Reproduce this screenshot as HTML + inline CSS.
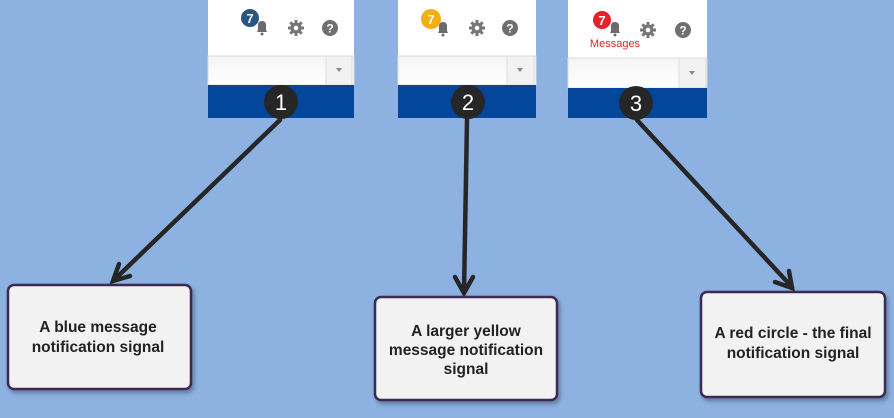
<!DOCTYPE html>
<html><head><meta charset="utf-8"><style>
html,body{margin:0;padding:0;background:#8db1e0;}
svg{display:block}
text{font-family:"Liberation Sans",sans-serif}
</style></head><body>
<svg width="894" height="418" viewBox="0 0 894 418" xmlns="http://www.w3.org/2000/svg">
<rect width="894" height="418" fill="#8db1e0"/>
<defs>
<g id="bell"><path d="M-5,4 L-4,2 L-4,-3 Q-4,-7 0,-7 Q4,-7 4,-3 L4,2 L5,4 Z" fill="#6b6b6b"/><circle cx="0" cy="6" r="1.5" fill="#6b6b6b"/></g>
<g id="gear"><g stroke="#777" stroke-width="3"><line x1="0" y1="-8" x2="0" y2="8"/><line x1="-8" y1="0" x2="8" y2="0"/><line x1="-5.7" y1="-5.7" x2="5.7" y2="5.7"/><line x1="-5.7" y1="5.7" x2="5.7" y2="-5.7"/></g><circle r="5.5" fill="#777"/><circle r="2.3" fill="#fff"/></g>
<g id="help"><circle r="8" fill="#6f6f6f"/><text x="0" y="4.5" font-size="12" font-weight="bold" fill="#fff" text-anchor="middle">?</text></g>
<linearGradient id="inp" x1="0" y1="0" x2="0" y2="1"><stop offset="0" stop-color="#f4f4f4"/><stop offset="1" stop-color="#ffffff"/></linearGradient>
<filter id="sh" x="-10%" y="-10%" width="130%" height="130%"><feDropShadow dx="2" dy="3" stdDeviation="2" flood-color="#000" flood-opacity="0.3"/></filter>
</defs>

<!-- Panel 1 -->
<rect x="208" y="0" width="146" height="56" fill="#fff"/>
<rect x="208" y="56" width="146" height="29" fill="url(#inp)" stroke="#ddd"/>
<rect x="326" y="56" width="26" height="29" fill="#f2f2f2" stroke="#ddd"/>
<path d="M336,68 L342,68 L339,72Z" fill="#888"/>
<rect x="208" y="85" width="146" height="33" fill="#04469a"/>
<use href="#bell" x="262" y="28"/>
<circle cx="250" cy="18" r="9" fill="#2b5580"/>
<text x="250" y="23" font-size="13" font-weight="bold" fill="#fff" text-anchor="middle">7</text>
<use href="#gear" x="296" y="28"/>
<use href="#help" x="330" y="28"/>
<circle cx="281" cy="102" r="17" fill="#262626"/>
<text x="281" y="110" font-size="22" fill="#fff" text-anchor="middle">1</text>

<!-- Panel 2 -->
<rect x="398" y="0" width="138" height="56" fill="#fff"/>
<rect x="398" y="56" width="138" height="29" fill="url(#inp)" stroke="#ddd"/>
<rect x="507" y="56" width="27" height="29" fill="#f2f2f2" stroke="#ddd"/>
<path d="M517,68 L523,68 L520,72Z" fill="#888"/>
<rect x="398" y="85" width="138" height="33" fill="#04469a"/>
<use href="#bell" x="443" y="29"/>
<circle cx="431" cy="19" r="10" fill="#f4ae13"/>
<text x="431" y="24" font-size="13" font-weight="bold" fill="#fff" text-anchor="middle">7</text>
<use href="#gear" x="477" y="28"/>
<use href="#help" x="510" y="28"/>
<circle cx="468" cy="102" r="17" fill="#262626"/>
<text x="468" y="110" font-size="22" fill="#fff" text-anchor="middle">2</text>

<!-- Panel 3 -->
<rect x="568" y="0" width="139" height="58" fill="#fff"/>
<rect x="568" y="58" width="139" height="30" fill="url(#inp)" stroke="#ddd"/>
<rect x="679" y="58" width="27" height="30" fill="#f2f2f2" stroke="#ddd"/>
<path d="M689,71 L695,71 L692,75Z" fill="#888"/>
<rect x="568" y="88" width="139" height="30" fill="#04469a"/>
<use href="#bell" x="615" y="29"/>
<circle cx="602" cy="20" r="9" fill="#e8202a"/>
<text x="602" y="25" font-size="13" font-weight="bold" fill="#fff" text-anchor="middle">7</text>
<text x="615" y="47" font-size="11" fill="#e8202a" text-anchor="middle">Messages</text>
<use href="#gear" x="648" y="30"/>
<use href="#help" x="683" y="30"/>
<circle cx="636" cy="103" r="17" fill="#262626"/>
<text x="636" y="111" font-size="22" fill="#fff" text-anchor="middle">3</text>

<!-- Arrows -->
<g stroke="#262626" stroke-width="4.5" fill="none" stroke-linecap="round">
<line x1="280" y1="120" x2="114" y2="280"/>
<polyline points="119,264 113,281 130,276"/>
<line x1="467" y1="120" x2="464" y2="292"/>
<polyline points="455,277 464,293 473,277"/>
<line x1="637" y1="120" x2="792" y2="287"/>
<polyline points="775,282 792,288 789,271"/>
</g>

<!-- Boxes -->
<g filter="url(#sh)" fill="#f2f2f2" stroke="#3a2a55" stroke-width="2.5">
<rect x="8" y="285" width="183" height="104" rx="6"/>
<rect x="375" y="297" width="182" height="103" rx="6"/>
<rect x="701" y="292" width="184" height="105" rx="6"/>
</g>
<g font-size="15.5" font-weight="bold" fill="#222" text-anchor="middle">
<text x="98" y="332">A blue message</text>
<text x="98" y="352">notification signal</text>
<text x="466" y="336">A larger yellow</text>
<text x="466" y="355">message notification</text>
<text x="466" y="374">signal</text>
<text x="793" y="338">A red circle - the final</text>
<text x="793" y="358">notification signal</text>
</g>
</svg>
</body></html>
